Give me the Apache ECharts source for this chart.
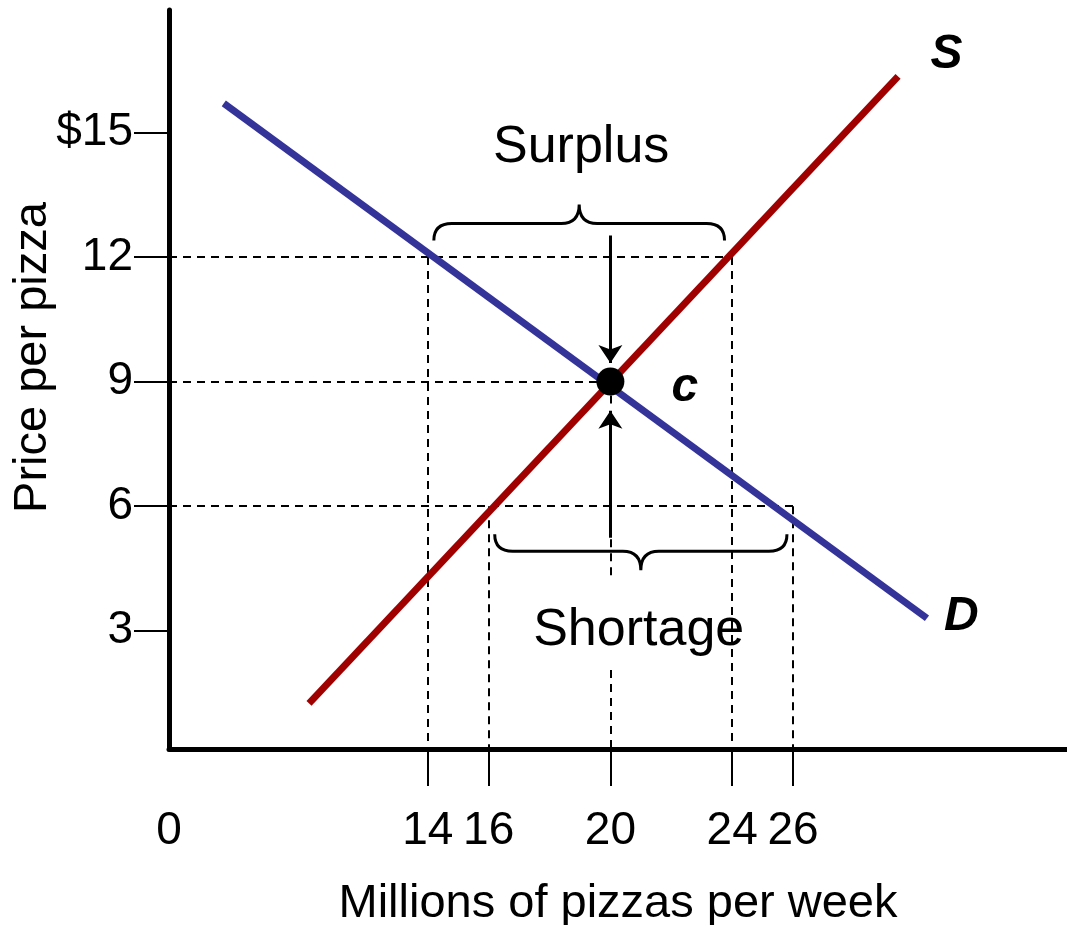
<!DOCTYPE html>
<html>
<head>
<meta charset="utf-8">
<title>Pizza market</title>
<script src="https://cdn.jsdelivr.net/npm/echarts@6/dist/echarts.min.js"></script>
<style>
html, body { margin: 0; background: #fff; }
#chart { width: 1067px; height: 925px; }
</style>
</head>
<body>
<div id="chart"></div>
<script>
// axis ranges - the drawing does not start at 0, the "0" is only a label at the origin
var xMin = 5.5, xMax = 35;
var yMin = 0.15, yMax = 17.95;

var xTicks = [14, 16, 20, 24, 26];
var xLabels = [xMin, 14, 16, 20, 24, 26];
var yTicks = [3, 6, 9, 12, 15];

// curves (quantity, price)
var demand = [[7.3, 15.7], [30.4, 3.3]];
var supply = [[10.1, 1.25], [29.45, 16.35]];
var equilibrium = [[20, 9]];

// dashed guides [q1, p1, q2, p2]
var guides = [
  [xMin, 12, 24, 12],
  [xMin, 9, 20, 9],
  [xMin, 6, 26, 6],
  [14, 12, 14, yMin],
  [16, 6, 16, yMin],
  [24, 12, 24, yMin],
  [26, 6, 26, yMin],
  [20, 9, 20, 8.45],
  [20, 5.2, 20, 4.2],
  [20, 2.05, 20, yMin]
];
// arrows pointing at the equilibrium [q1, p1, q2, p2]
var arrows = [
  [20, 12.52, 20, 9.45],
  [20, 5.24, 20, 8.3]
];
// braces: from q, to q, price at the tips, direction (-1 up, 1 down)
var braces = [
  [14.2, 23.75, 12.4, -1],
  [16.2, 25.8, 5.32, 1]
];
// text notes: q, p, text, weight
var notes = [
  [19.04, 14.63, 'Surplus', 'normal'],
  [20.93, 3.0, 'Shortage', 'normal'],
  [31.04, 16.87, 'S', 'bold'],
  [31.53, 3.34, 'D', 'bold'],
  [22.45, 8.85, 'c', 'bold']
];

var FONT = '"Liberation Sans", Arial, sans-serif';

function toLines(list) {
  return list.map(function (g) {
    return { coords: [[g[0], g[1]], [g[2], g[3]]] };
  });
}

var chart = echarts.init(document.getElementById('chart'));

var option = {
  animation: false,
  backgroundColor: '#fff',
  grid: { left: 169, right: 0, top: 10, bottom: 176, outerBoundsMode: 'none', containLabel: false },
  xAxis: {
    type: 'value',
    min: xMin,
    max: xMax,
    name: 'Millions of pizzas per week',
    nameLocation: 'middle',
    nameGap: 132,
    nameMoveOverlap: false,
    nameTextStyle: { fontSize: 47, color: '#000', fontFamily: FONT },
    axisLine: { lineStyle: { color: '#000', width: 5 } },
    axisTick: { show: true, customValues: xTicks, length: 37, lineStyle: { color: '#000', width: 2 } },
    axisLabel: {
      customValues: xLabels,
      showMinLabel: true,
      margin: 59,
      fontSize: 46,
      color: '#000',
      fontFamily: FONT,
      formatter: function (v) { return v === xMin ? '0' : String(v); }
    },
    splitLine: { show: false }
  },
  yAxis: {
    type: 'value',
    min: yMin,
    max: yMax,
    name: 'Price per pizza',
    nameLocation: 'middle',
    nameRotate: 90,
    nameGap: 112,
    nameMoveOverlap: false,
    nameTextStyle: { fontSize: 47, color: '#000', fontFamily: FONT, padding: [0, 0, 0, 44] },
    axisLine: { lineStyle: { color: '#000', width: 5 } },
    axisTick: { show: true, customValues: yTicks, length: 35, lineStyle: { color: '#000', width: 2 } },
    axisLabel: {
      customValues: yTicks,
      margin: 36,
      fontSize: 46,
      color: '#000',
      fontFamily: FONT,
      formatter: function (v) { return v === 15 ? '$15' : String(v); }
    },
    splitLine: { show: false }
  },
  series: [
    {
      name: 'guides',
      type: 'lines',
      coordinateSystem: 'cartesian2d',
      silent: true,
      lineStyle: { color: '#000', width: 2, type: [8, 6], opacity: 1 },
      data: toLines(guides)
    },
    {
      name: 'Demand',
      type: 'line',
      symbol: 'none',
      lineStyle: { color: '#333399', width: 7 },
      data: demand
    },
    {
      name: 'Supply',
      type: 'line',
      symbol: 'none',
      lineStyle: { color: '#a00000', width: 7 },
      data: supply
    },
    {
      name: 'arrows',
      type: 'lines',
      coordinateSystem: 'cartesian2d',
      silent: true,
      symbol: ['none', 'arrow'],
      symbolSize: 18,
      lineStyle: { color: '#000', width: 3, opacity: 1 },
      data: toLines(arrows)
    },
    {
      name: 'braces',
      type: 'custom',
      silent: true,
      data: braces,
      renderItem: function (params, api) {
        var a = api.coord([api.value(0), api.value(2)]);
        var b = api.coord([api.value(1), api.value(2)]);
        var d = api.value(3);
        var y0 = a[1], yh = y0 + d * 17, yp = y0 + d * 36;
        var x1 = a[0], x2 = b[0], xm = (x1 + x2) / 2, r = 18;
        var p = 'M' + x1 + ',' + y0 + ' Q' + x1 + ',' + yh + ' ' + (x1 + r) + ',' + yh +
          ' L' + (xm - r) + ',' + yh + ' Q' + xm + ',' + yh + ' ' + xm + ',' + yp +
          ' M' + xm + ',' + yp + ' Q' + xm + ',' + yh + ' ' + (xm + r) + ',' + yh +
          ' L' + (x2 - r) + ',' + yh + ' Q' + x2 + ',' + yh + ' ' + x2 + ',' + y0;
        return {
          type: 'path',
          shape: { pathData: p },
          style: { stroke: '#000', lineWidth: 3, fill: 'none' }
        };
      }
    },
    {
      name: 'equilibrium',
      type: 'scatter',
      symbolSize: 28,
      itemStyle: { color: '#000', opacity: 1 },
      z: 5,
      data: equilibrium
    },
    {
      name: 'notes',
      type: 'custom',
      silent: true,
      data: notes.map(function (n) { return [n[0], n[1]]; }),
      renderItem: function (params, api) {
        var n = notes[params.dataIndex];
        var pt = api.coord([n[0], n[1]]);
        var bold = n[3] === 'bold';
        return {
          type: 'text',
          x: pt[0],
          y: pt[1],
          style: {
            text: n[2],
            fill: '#000',
            fontSize: bold ? 48 : 52,
            fontWeight: bold ? 'bold' : 'normal',
            fontStyle: bold ? 'italic' : 'normal',
            fontFamily: FONT,
            align: 'center',
            verticalAlign: 'middle'
          }
        };
      }
    }
  ]
};

chart.setOption(option);
</script>
</body>
</html>
